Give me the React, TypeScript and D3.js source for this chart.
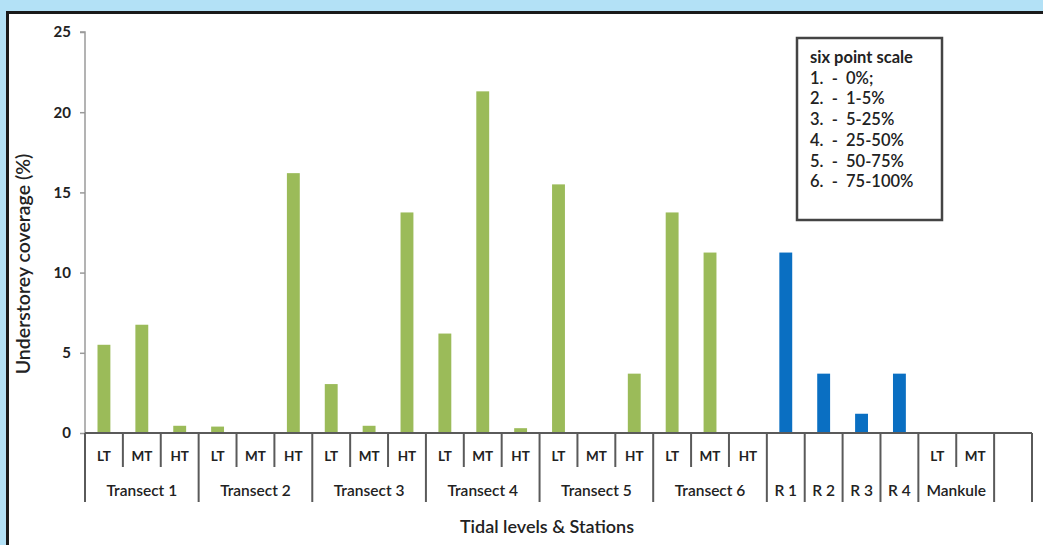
import React, { useEffect, useRef } from "react";
import * as d3 from "d3";

// values (understorey coverage, %)
const tidalLevels = ["LT", "MT", "HT"];
const transects = ["Transect 1", "Transect 2", "Transect 3", "Transect 4", "Transect 5", "Transect 6"];
const transectValues = [
  [5.5, 6.75, 0.45],
  [0.4, 0, 16.2],
  [3.05, 0.45, 13.75],
  [6.2, 21.3, 0.3],
  [15.5, 0, 3.7],
  [13.75, 11.25, 0],
];
const reserves = ["R 1", "R 2", "R 3", "R 4"];
const reserveValues = [11.25, 3.7, 1.2, 3.7];
const mankuleLevels = ["LT", "MT"];
const mankuleValues = [0, 0];
const yTicks = [0, 5, 10, 15, 20, 25];
const legendLines = [
  "six point scale",
  "1.  -  0%;",
  "2.  -  1-5%",
  "3.  -  5-25%",
  "4.  -  25-50%",
  "5.  -  50-75%",
  "6.  -  75-100%",
];

const W = 1043;
const H = 545;
const FONT = "Lato, 'Open Sans', sans-serif";

interface Cat {
  key: string;
  sub: string;
  group: string;
  value: number;
  color: string;
  first: boolean;
}

const buildCats = (): Cat[] => {
  const out: Cat[] = [];
  transects.forEach((t, i) =>
    tidalLevels.forEach((lv, j) =>
      out.push({ key: `${t}-${lv}`, sub: lv, group: t, value: transectValues[i][j], color: "#9BBB59", first: j === 0 }),
    ),
  );
  reserves.forEach((r, i) => out.push({ key: r, sub: "", group: r, value: reserveValues[i], color: "#0A6FC2", first: true }));
  mankuleLevels.forEach((lv, j) =>
    out.push({ key: `Mankule-${lv}`, sub: lv, group: "Mankule", value: mankuleValues[j], color: "#9BBB59", first: j === 0 }),
  );
  out.push({ key: "blank", sub: "", group: "", value: 0, color: "#9BBB59", first: true });
  return out;
};

const App: React.FC = () => {
  const svgRef = useRef<SVGSVGElement>(null);

  useEffect(() => {
    document.body.style.margin = "0";
    const cats = buildCats();
    const svg = d3.select(svgRef.current);
    svg.selectAll("*").remove();

    const left = 85;
    const right = 1032;
    const top = 32;
    const bottom = 433;
    const row1 = 467;
    const row2 = 502;

    const x = d3.scaleBand().domain(cats.map((d) => d.key)).range([left, right]).padding(0);
    const y = d3.scaleLinear().domain([0, 25]).range([bottom, top]);

    // frame
    svg.append("rect").attr("width", W).attr("height", H).attr("fill", "#B3E1F6");
    svg
      .append("rect")
      .attr("x", 7.5)
      .attr("y", 12.5)
      .attr("width", W + 20)
      .attr("height", H + 20)
      .attr("fill", "#fff")
      .attr("stroke", "#1a1a1a")
      .attr("stroke-width", 3);

    // y axis
    const yAxis = svg
      .append("g")
      .attr("transform", `translate(${left},0)`)
      .call(
        //@ts-ignore
        d3
          .axisLeft(y)
          .tickValues(yTicks)
          .tickSize(5)
          .tickPadding(9)
          .tickFormat((d) => `${d}`),
      );
    yAxis.select(".domain").attr("stroke", "#9a9a9a").attr("stroke-width", 1.5).attr("d", `M-5,${top}H0V${bottom}`);
    yAxis.selectAll(".tick line").attr("stroke", "#9a9a9a").attr("stroke-width", 1.5);
    yAxis
      .selectAll(".tick text")
      .attr("font-family", FONT)
      .attr("font-weight", "bold")
      .attr("font-size", 15)
      .attr("fill", "#222");

    // bars
    const bw = x.bandwidth() * 0.34;
    svg
      .append("g")
      .selectAll("rect")
      .data(cats.filter((d) => d.value > 0))
      .join("rect")
      .attr("x", (d) => x(d.key)! + (x.bandwidth() - bw) / 2)
      .attr("y", (d) => y(d.value))
      .attr("width", bw)
      .attr("height", (d) => y(0) - y(d.value))
      .attr("fill", (d) => d.color);

    // category axis
    const cax = svg.append("g").attr("stroke", "#5a5a5a").attr("stroke-width", 2);
    cax.append("line").attr("x1", left).attr("x2", right).attr("y1", bottom).attr("y2", bottom);
    cats.forEach((d) => {
      const x0 = x(d.key)!;
      cax
        .append("line")
        .attr("x1", x0)
        .attr("x2", x0)
        .attr("y1", bottom)
        .attr("y2", d.first ? row2 : row1);
    });
    cax.append("line").attr("x1", right).attr("x2", right).attr("y1", bottom).attr("y2", row2);

    const labels = svg
      .append("g")
      .attr("font-family", FONT)
      .attr("font-weight", "bold")
      .attr("fill", "#222")
      .attr("text-anchor", "middle");
    labels
      .selectAll(".sub")
      .data(cats.filter((d) => d.sub))
      .join("text")
      .attr("x", (d) => x(d.key)! + x.bandwidth() / 2)
      .attr("y", 461)
      .attr("font-size", 13.5)
      .text((d) => d.sub);

    const groups = d3.groups(cats, (d) => d.group).filter(([g]) => g);
    labels
      .selectAll(".grp")
      .data(groups)
      .join("text")
      .attr("x", ([, arr]) => (x(arr[0].key)! + x(arr[arr.length - 1].key)! + x.bandwidth()) / 2)
      .attr("y", 496)
      .attr("font-size", 15.5)
      .attr("font-weight", 600)
      .text(([g]) => g);

    // titles
    svg
      .append("text")
      .attr("x", 547)
      .attr("y", 533)
      .attr("text-anchor", "middle")
      .attr("font-family", FONT)
      .attr("font-weight", 600)
      .attr("font-size", 18)
      .attr("fill", "#222")
      .text("Tidal levels & Stations");
    svg
      .append("text")
      .attr("transform", `translate(30,264) rotate(-90)`)
      .attr("text-anchor", "middle")
      .attr("font-family", FONT)
      .attr("font-weight", 600)
      .attr("font-size", 19.5)
      .attr("fill", "#222")
      .text("Understorey coverage (%)");

    // legend box
    const lg = svg.append("g").attr("transform", "translate(797,38)");
    lg.append("rect")
      .attr("width", 145)
      .attr("height", 182)
      .attr("fill", "#fff")
      .attr("stroke", "#444")
      .attr("stroke-width", 2.5);
    lg.selectAll("text")
      .data(legendLines)
      .join("text")
      .attr("x", 13)
      .attr("y", (d, i) => 25 + i * 20.7)
      .attr("xml:space", "preserve")
      .style("white-space", "pre")
      .attr("font-family", FONT)
      .attr("font-weight", (d, i) => (i === 0 ? "bold" : 600))
      .attr("font-size", 16.5)
      .attr("fill", "#222")
      .text((d) => d);
  }, []);

  return <svg ref={svgRef} width={W} height={H} style={{ display: "block" }} />;
};

export default App;
